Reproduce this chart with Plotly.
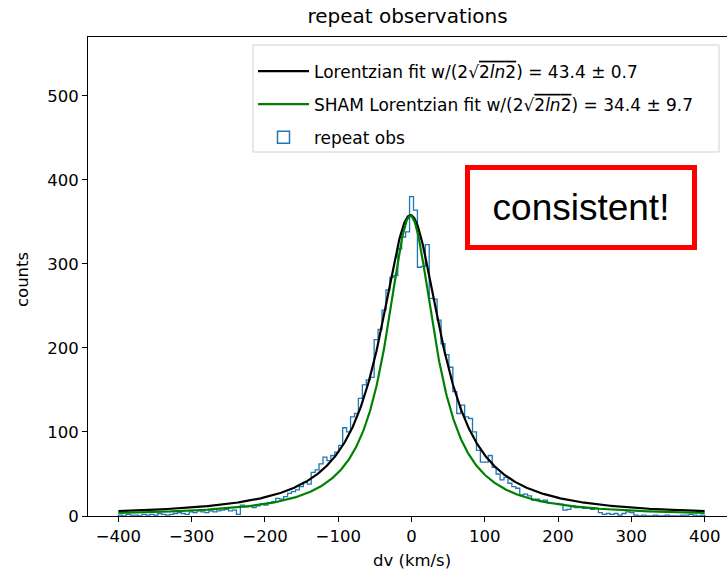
import numpy as np
import plotly.graph_objects as go

# ---- data ----
hist_range = [-400, 400]
counts = [1,0,2,1,1,0,2,1,2,1,3,2,1,2,3,4,3,2,
          5,4,6,5,4,6,5,6,
          7,8,6,7,
          2,
          13,11,12,10,12,
          14,13,16,17,
          21,20,23,
          27,29,31,35,
          40,38,52,
          55,62,70,
          66,72,76,
          84,105,100,118,122,140,156,162,165,210,222,245,269,284,286,318,332,338,
          380,
          364,296,297,323,259,258,233,205,192,177,148,122,132,118,116,100,78,64,64,72,
          58,50,43,46,39,35,33,25,26,24,19,20,17,19,16,15,15,14,7,8,12,10,11,9,10,8,9,
          4,2,3,2,3,1,3,5,4,1,
          0,1,0,0,1,0,0,1,0,0,0,1,1,2,1,0,1]

# Lorentzian fit parameters (amplitude, centre, sigma-equivalent width from legend)
fit_amp = 358
fit_center = -1.5
fit_width = 43.4        # w / (2 sqrt(2 ln2))
sham_amp = 357
sham_center = -1.5
sham_width = 34.4

fit_label = ("Lorentzian fit w/(2√<span style='text-decoration:overline'>2<i>ln</i>2</span>)"
             " = 43.4 ± 0.7")
sham_label = ("SHAM Lorentzian fit w/(2√<span style='text-decoration:overline'>2<i>ln</i>2</span>)"
              " = 34.4 ± 9.7")
hist_label = "repeat obs"

# ---- derived ----
edges = np.linspace(hist_range[0], hist_range[1], len(counts) + 1)
hx = [edges[0]] + list(edges[:-1]) + [edges[-1]]
hy = [0] + list(counts) + [0]

k = 2 * np.sqrt(2 * np.log(2))
xs = np.linspace(hist_range[0], hist_range[1], 801)

def lorentz(x, amp, c, w):
    g = w * k / 2.0
    return amp / (1 + ((x - c) / g) ** 2)

FONT = "DejaVu Sans"
TICK = 16.5
PW, PH, ML, MT = 639, 479, 88, 37

def px(x):
    return (x - ML) / PW

def py(y):
    return (MT + PH - y) / PH

fig = go.Figure()

fig.add_trace(go.Scatter(x=hx, y=hy, mode="lines", line=dict(color="#1f77b4", width=1.3, shape="hv"),
                         showlegend=False, hoverinfo="skip"))
fig.add_trace(go.Scatter(x=xs, y=lorentz(xs, fit_amp, fit_center, fit_width), mode="lines",
                         line=dict(color="black", width=2.2), name=fit_label, legendgroup="a"))
fig.add_trace(go.Scatter(x=xs, y=lorentz(xs, sham_amp, sham_center, sham_width), mode="lines",
                         line=dict(color="#008000", width=2.2), name=sham_label, legendgroup="b"))
fig.add_trace(go.Bar(x=[None], y=[None], name=hist_label, legendgroup="c",
                     marker=dict(color="rgba(0,0,0,0)", line=dict(color="#1f77b4", width=1.5))))

fig.update_layout(
    width=727, height=572,
    margin=dict(l=ML, r=0, t=MT, b=572 - MT - PH),
    paper_bgcolor="white", plot_bgcolor="white",
    font=dict(family=FONT, size=TICK, color="black"),
    title=dict(text="repeat observations", x=0.5, xref="paper", y=1 - 16 / 572, yref="container",
               xanchor="center", yanchor="middle", font=dict(size=20)),
    showlegend=True,
    legend=dict(x=px(253), y=py(53.5), xanchor="left", yanchor="top", bgcolor="rgba(0,0,0,0)",
                borderwidth=0, font=dict(size=17), tracegroupgap=8, itemwidth=51),
    shapes=[dict(type="rect", xref="paper", yref="paper", x0=px(253), x1=px(719),
                 y0=py(152), y1=py(45), line=dict(color="#d0d0d0", width=1),
                 fillcolor="white", layer="above")],
    xaxis=dict(range=[-441.5, 430.5], tickvals=list(range(-400, 401, 100)),
               ticktext=[str(v).replace("-", "−") for v in range(-400, 401, 100)],
               showline=True, linecolor="black", linewidth=1, mirror=True,
               ticks="outside", ticklen=5, tickcolor="black", showgrid=False, zeroline=False,
               tickfont=dict(size=TICK)),
    yaxis=dict(range=[0, 570], tickvals=list(range(0, 501, 100)),
               showline=True, linecolor="black", linewidth=1, mirror=False,
               ticks="outside", ticklen=5, tickcolor="black", showgrid=False, zeroline=False,
               tickfont=dict(size=TICK)),
    annotations=[
        dict(text="counts", textangle=-90, x=px(22), y=py(280),
             xref="paper", yref="paper", xanchor="center", yanchor="middle",
             showarrow=False, font=dict(size=TICK)),
        dict(text="dv (km/s)", x=px(412), y=py(560),
             xref="paper", yref="paper", xanchor="center", yanchor="middle",
             showarrow=False, font=dict(size=TICK)),
        dict(text="consistent!", x=px(581), y=py(207.5),
             xref="paper", yref="paper", xanchor="center", yanchor="middle", showarrow=False,
             font=dict(family="Liberation Sans", size=37, color="black"),
             bordercolor="#ff0000", borderwidth=5, borderpad=0, bgcolor="white",
             width=222, height=75),
    ],
)

fig.write_html("out.html")
